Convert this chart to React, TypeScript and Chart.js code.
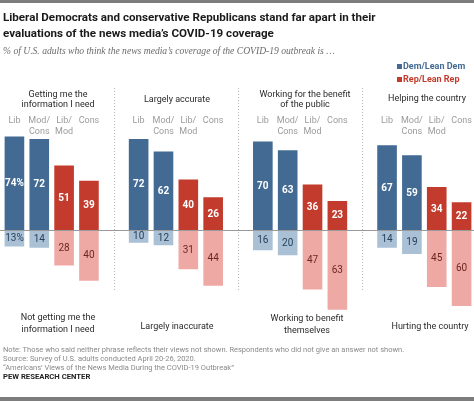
import React, { useEffect, useRef } from "react";
import { Chart, registerables } from "chart.js";

Chart.register(...registerables);

// ---- Data ----
const groupLabels: string[][] = [["Lib"], ["Mod/", "Cons"], ["Lib/", "Mod"], ["Cons"]];
const topicsPositive: string[][] = [
  ["Getting me the", "information I need"],
  ["Largely accurate"],
  ["Working for the benefit", "of the public"],
  ["Helping the country"],
];
const topicsNegative: string[][] = [
  ["Not getting me the", "information I need"],
  ["Largely inaccurate"],
  ["Working to benefit", "themselves"],
  ["Hurting the country"],
];
// positive phrase (per panel)
const demLib = [74, 72, 70, 67];
const demModCons = [72, 62, 63, 59];
const repLibMod = [51, 40, 36, 34];
const repCons = [39, 26, 23, 22];
// negative phrase (per panel)
const demLibNeg = [13, 10, 16, 14];
const demModConsNeg = [14, 12, 20, 19];
const repLibModNeg = [28, 31, 47, 45];
const repConsNeg = [40, 44, 63, 60];

const DEM = "#426a93";
const REP = "#c23b2c";
const DEM_L = "#a9c0d5";
const REP_L = "#efa9a5";
const DEM_T = "#233f5c";
const REP_T = "#6e2620";

// panel title centers (layout)
const topCenters = [58, 177, 305, 427];
const topY = [94, 99, 94, 98];
const botCenters = [58, 177, 307, 430];
const botY = [317, 326, 318, 326];

export default function App() {
  const ref = useRef<HTMLCanvasElement | null>(null);

  useEffect(() => {
    const canvas = ref.current!;
    // build 19 slots: 4 panels x 4 bars + 3 spacers
    const labels: string[] = [];
    const slotPanel: number[] = [];
    const slotGroup: number[] = [];
    for (let p = 0; p < 4; p++) {
      for (let g = 0; g < 4; g++) {
        labels.push(groupLabels[g].join(" "));
        slotPanel.push(p);
        slotGroup.push(g);
      }
      if (p < 3) {
        labels.push("");
        slotPanel.push(-1);
        slotGroup.push(-1);
      }
    }
    const pos = [demLib, demModCons, repLibMod, repCons];
    const neg = [demLibNeg, demModConsNeg, repLibModNeg, repConsNeg];
    const mk = (party: number, negative: boolean) =>
      slotPanel.map((p, i) => {
        const g = slotGroup[i];
        if (p < 0) return null;
        if ((g < 2 ? 0 : 1) !== party) return null;
        return negative ? -neg[g][p] : pos[g][p];
      });

    const labelPlugin = {
      id: "pewLabels",
      afterDatasetsDraw(chart: any) {
        const ctx = chart.ctx as CanvasRenderingContext2D;
        const xs = chart.scales.x;
        const ys = chart.scales.y;
        const y0 = ys.getPixelForValue(0);
        ctx.save();
        // zero line
        ctx.strokeStyle = "#9a9a9a";
        ctx.lineWidth = 1;
        ctx.beginPath();
        ctx.moveTo(0, Math.round(y0) + 0.5);
        ctx.lineTo(chart.width, Math.round(y0) + 0.5);
        ctx.stroke();
        // separators
        ctx.strokeStyle = "#b5b5b5";
        ctx.setLineDash([1, 2]);
        slotPanel.forEach((p, i) => {
          if (p >= 0) return;
          const x = Math.round(xs.getPixelForValue(i)) + 0.5;
          ctx.beginPath();
          ctx.moveTo(x, 88);
          ctx.lineTo(x, 292);
          ctx.stroke();
        });
        ctx.setLineDash([]);
        // group headers
        ctx.fillStyle = "#9b9b9b";
        ctx.font = "9px Roboto";
        ctx.textAlign = "center";
        ctx.textBaseline = "middle";
        slotPanel.forEach((p, i) => {
          if (p < 0) return;
          const x = xs.getPixelForValue(i);
          groupLabels[slotGroup[i]].forEach((t, k) => ctx.fillText(t, x, 121 + k * 10.5));
        });
        // value labels
        chart.data.datasets.forEach((ds: any, di: number) => {
          const meta = chart.getDatasetMeta(di);
          ds.data.forEach((v: number | null, i: number) => {
            if (v == null) return;
            const el = meta.data[i];
            const cy = (el.y + el.base) / 2;
            const p = slotPanel[i];
            const g = slotGroup[i];
            const pct = p === 0 && g === 0 ? "%" : "";
            const txt = Math.abs(v) + pct;
            if (v > 0) {
              ctx.fillStyle = "#ffffff";
              ctx.font = "bold 10px Roboto";
            } else {
              ctx.fillStyle = g < 2 ? DEM_T : REP_T;
              ctx.font = "10px Roboto";
            }
            ctx.fillText(txt, el.x, cy + 0.5);
          });
        });
        ctx.restore();
      },
    };

    const chart = new Chart(canvas, {
      type: "bar",
      data: {
        labels,
        datasets: [
          { label: "Dem/Lean Dem", data: mk(0, false), backgroundColor: DEM, stack: "s" },
          { label: "Rep/Lean Rep", data: mk(1, false), backgroundColor: REP, stack: "s" },
          { label: "Dem/Lean Dem (neg)", data: mk(0, true), backgroundColor: DEM_L, stack: "s" },
          { label: "Rep/Lean Rep (neg)", data: mk(1, true), backgroundColor: REP_L, stack: "s" },
        ],
      },
      options: {
        responsive: false,
        animation: false,
        devicePixelRatio: 1,
        layout: { padding: { left: 2, right: 0, top: 128.8, bottom: 82.4 } },
        datasets: { bar: { barPercentage: 0.79, categoryPercentage: 1 } },
        scales: {
          x: { stacked: true, display: false, grid: { display: false } },
          y: { stacked: true, display: false, min: -70, max: 80, grid: { display: false } },
        },
        plugins: { legend: { display: false }, tooltip: { enabled: false }, title: { display: false } },
      },
      plugins: [labelPlugin],
    });
    return () => chart.destroy();
  }, []);

  const abs = (s: React.CSSProperties): React.CSSProperties => ({ position: "absolute", ...s });

  return (
    <div
      style={{
        position: "fixed",
        left: 0,
        top: 0,
        width: 474,
        height: 401,
        background: "#fff",
        overflow: "hidden",
        fontFamily: "Roboto, sans-serif",
      }}
    >
      <canvas ref={ref} width={474} height={401} style={abs({ left: 0, top: 0, width: 474, height: 401 })} />
      <div style={abs({ left: 0, top: 0, width: 474, height: 3, background: "#7d7d7d" })} />
      <div
        style={abs({
          left: 3,
          top: 9,
          width: 470,
          fontSize: 11.6,
          fontWeight: 700,
          lineHeight: "16px",
          color: "#1a1a1a",
          whiteSpace: "nowrap",
        })}
      >
        <div>Liberal Democrats and conservative Republicans stand far apart in their</div>
        <div>evaluations of the news media’s COVID-19 coverage</div>
      </div>
      <div
        style={abs({
          left: 3,
          top: 45,
          fontFamily: "'Liberation Serif', serif",
          fontStyle: "italic",
          fontSize: 9.6,
          lineHeight: "12px",
          color: "#6b6b6b",
          whiteSpace: "nowrap",
        })}
      >
        % of U.S. adults who think the news media’s coverage of the COVID-19 outbreak is …
      </div>
      {/* legend */}
      <div style={abs({ left: 397, top: 63.5, width: 5, height: 5, background: DEM })} />
      <div style={abs({ left: 403, top: 60, fontSize: 9, fontWeight: 700, lineHeight: "12px", color: DEM, whiteSpace: "nowrap" })}>
        Dem/Lean Dem
      </div>
      <div style={abs({ left: 397, top: 76.5, width: 5, height: 5, background: REP })} />
      <div style={abs({ left: 403, top: 73, fontSize: 9, fontWeight: 700, lineHeight: "12px", color: REP, whiteSpace: "nowrap" })}>
        Rep/Lean Rep
      </div>
      {topicsPositive.map((lines, p) => (
        <div
          key={"t" + p}
          style={abs({
            left: topCenters[p] - 60,
            top: topY[p] - 5.5,
            width: 120,
            textAlign: "center",
            fontSize: 9,
            lineHeight: "10.5px",
            color: "#2a2a2a",
            whiteSpace: "nowrap",
          })}
        >
          {lines.map((l, k) => (
            <div key={k}>{l}</div>
          ))}
        </div>
      ))}
      {topicsNegative.map((lines, p) => (
        <div
          key={"b" + p}
          style={abs({
            left: botCenters[p] - 60,
            top: botY[p] - 6,
            width: 120,
            textAlign: "center",
            fontSize: 9,
            lineHeight: "12px",
            color: "#2a2a2a",
            whiteSpace: "nowrap",
          })}
        >
          {lines.map((l, k) => (
            <div key={k}>{l}</div>
          ))}
        </div>
      ))}
      <div
        style={abs({
          left: 3,
          top: 344.5,
          fontSize: 7.5,
          lineHeight: "9px",
          color: "#8a8a8a",
          whiteSpace: "nowrap",
        })}
      >
        <div>Note: Those who said neither phrase reflects their views not shown. Respondents who did not give an answer not shown.</div>
        <div>Source: Survey of U.S. adults conducted April 20-26, 2020.</div>
        <div>“Americans’ Views of the News Media During the COVID-19 Outbreak”</div>
      </div>
      <div
        style={abs({
          left: 3,
          top: 372,
          fontSize: 7.7,
          fontWeight: 700,
          lineHeight: "10px",
          color: "#222",
          whiteSpace: "nowrap",
        })}
      >
        PEW RESEARCH CENTER
      </div>
      <div style={abs({ left: 0, top: 397, width: 474, height: 4, background: "#7d7d7d" })} />
    </div>
  );
}
